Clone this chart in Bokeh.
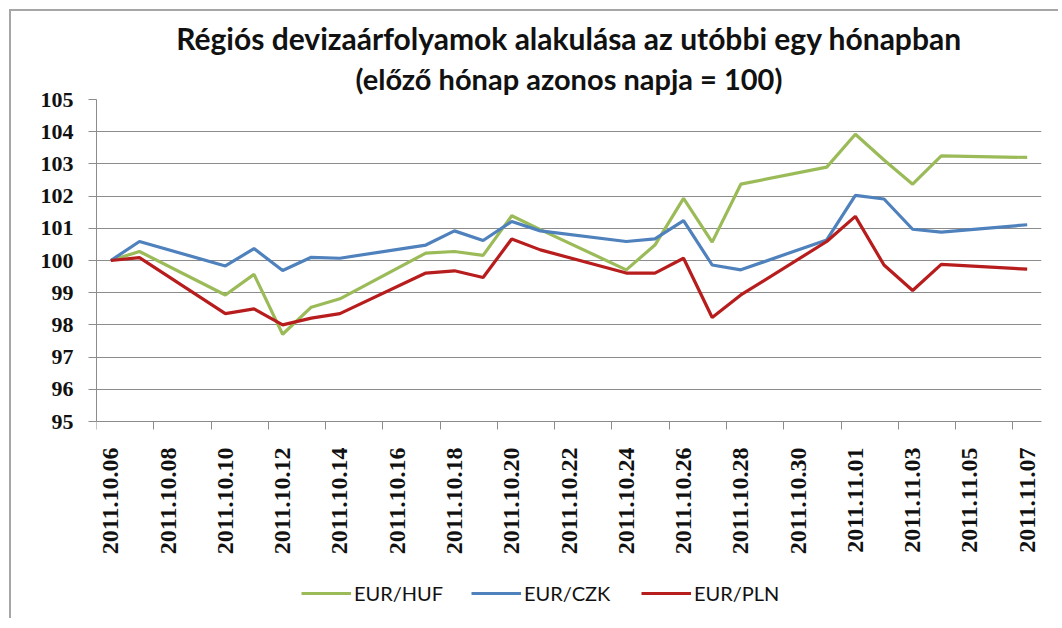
from datetime import date
from bokeh.plotting import figure
from bokeh.models import (FixedTicker, Legend, LegendItem, Title,
                          Range1d, ColumnDataSource)
from bokeh.embed import file_html
from bokeh.resources import INLINE

# ---- data ----
dates = ["2011.10.06", "2011.10.07", "2011.10.10", "2011.10.11", "2011.10.12",
         "2011.10.13", "2011.10.14", "2011.10.17", "2011.10.18", "2011.10.19",
         "2011.10.20", "2011.10.21", "2011.10.24", "2011.10.25", "2011.10.26",
         "2011.10.27", "2011.10.28", "2011.10.31", "2011.11.01", "2011.11.02",
         "2011.11.03", "2011.11.04", "2011.11.07"]
eur_huf = [100.00, 100.28, 98.93, 99.57, 97.71, 98.55, 98.81, 100.23, 100.28, 100.16,
           101.39, 100.96, 99.71, 100.48, 101.93, 100.57, 102.37, 102.90, 103.92, 103.12,
           102.37, 103.25, 103.20]
eur_czk = [100.00, 100.59, 99.83, 100.37, 99.69, 100.10, 100.07, 100.48, 100.92, 100.62,
           101.21, 100.92, 100.59, 100.67, 101.24, 99.86, 99.71, 100.64, 102.02, 101.91,
           100.97, 100.88, 101.11]
eur_pln = [100.00, 100.09, 98.35, 98.50, 98.00, 98.21, 98.35, 99.61, 99.68, 99.47,
           100.67, 100.33, 99.61, 99.61, 100.07, 98.23, 98.93, 100.59, 101.37, 99.86,
           99.07, 99.88, 99.73]
tick_labels = ["2011.10.06", "2011.10.08", "2011.10.10", "2011.10.12", "2011.10.14",
               "2011.10.16", "2011.10.18", "2011.10.20", "2011.10.22", "2011.10.24",
               "2011.10.26", "2011.10.28", "2011.10.30", "2011.11.01", "2011.11.03",
               "2011.11.05", "2011.11.07"]
y_ticks = [95, 96, 97, 98, 99, 100, 101, 102, 103, 104, 105]
series_names = ["EUR/HUF", "EUR/CZK", "EUR/PLN"]
colors = ["#9BBB59", "#4F81BD", "#B81D1D"]
title_1 = "Régiós devizaárfolyamok alakulása az utóbbi egy hónapban"
title_2 = "(előző hónap azonos napja = 100)"


def to_date(s):
    y, m, d = (int(v) for v in s.split("."))
    return date(y, m, d)


start = to_date(dates[0])
end = to_date(tick_labels[-1])
n_days = (end - start).days + 1          # one slot per calendar day
x_pos = [(to_date(d) - start).days + 0.5 for d in dates]   # centre of the day's slot
label_pos = [(to_date(d) - start).days + 0.5 for d in tick_labels]
bound_pos = [(to_date(d) - start).days for d in tick_labels]

src = ColumnDataSource(dict(x=x_pos, huf=eur_huf, czk=eur_czk, pln=eur_pln))

GRID = "#8C8C8C"
SERIF = "Liberation Serif"
SANS = "Lato"
EDGE = "#A6A6A6"

# geometry: the value axis (95..105) occupies the top 322 px of the frame; the frame
# continues below it so that the date labels and the legend sit inside it
FRAME_H = 519
AXIS_PX = 322
y_lo, y_hi = y_ticks[0], y_ticks[-1]
y_start = y_hi - (y_hi - y_lo) * FRAME_H / AXIS_PX

p = figure(frame_width=945, frame_height=FRAME_H, output_backend="svg", toolbar_location=None,
           x_range=Range1d(0, n_days), y_range=Range1d(y_start, y_hi),
           min_border_left=96, min_border_right=17, min_border_top=99,
           min_border_bottom=0, outline_line_color=None,
           background_fill_color="white", border_fill_color=None,
           styles={"background-color": "white",
                   "background-image": f"linear-gradient({EDGE},{EDGE}), linear-gradient({EDGE},{EDGE})",
                   "background-size": "2px 100%, 100% 2px",
                   "background-position": "9px 9px, 9px 9px",
                   "background-repeat": "no-repeat"})

# titles (the last added is nearest to the frame)
p.title = Title(text=title_1, align="center", text_font=SANS, text_font_size="30px",
                text_font_style="bold", text_color="#111111", standoff=0)
p.add_layout(Title(text=title_2, align="center", text_font=SANS, text_font_size="29px",
                   text_font_style="bold", text_color="#111111", standoff=7), "above")

# y axis
ya = p.yaxis[0]
ya.ticker = FixedTicker(ticks=y_ticks)
ya.bounds = (y_lo, y_hi)
ya.major_label_text_font = SERIF
ya.major_label_text_font_size = "22px"
ya.major_label_text_font_style = "bold"
ya.major_label_text_color = "#111111"
ya.major_label_standoff = 15
ya.major_tick_out = 8
ya.major_tick_in = 0
ya.minor_tick_line_color = None
ya.axis_line_color = GRID
ya.major_tick_line_color = GRID

p.ygrid.ticker = FixedTicker(ticks=y_ticks)
p.ygrid.grid_line_color = GRID
p.ygrid.grid_line_width = 1
p.xgrid.grid_line_color = None

# x axis at value 95: labels centred on day slots, tick marks on slot boundaries
xa = p.xaxis[0]
xa.fixed_location = y_lo
xa.ticker = FixedTicker(ticks=label_pos, minor_ticks=bound_pos)
xa.major_label_overrides = {pos: lab for pos, lab in zip(label_pos, tick_labels)}
xa.major_label_orientation = 3.14159265 / 2
xa.major_label_text_font = SERIF
xa.major_label_text_font_size = "24px"
xa.major_label_text_font_style = "bold"
xa.major_label_text_color = "#111111"
xa.major_label_standoff = 18
xa.major_tick_line_color = None
xa.major_tick_out = 0
xa.major_tick_in = 0
xa.minor_tick_out = 8
xa.minor_tick_in = 0
xa.minor_tick_line_color = GRID
xa.axis_line_color = GRID

items = []
for col, name, c in zip(["huf", "czk", "pln"], series_names, colors):
    r = p.line("x", col, source=src, line_color=c, line_width=3.2)
    items.append(LegendItem(label=name, renderers=[r]))

legend = Legend(items=items, orientation="horizontal", location=(205, 13),
                glyph_width=50, glyph_height=22, label_standoff=3,
                label_width=117, spacing=0,
                padding=0, margin=0, label_text_font=SANS, label_text_font_size="20px",
                label_text_color="#111111", background_fill_alpha=0,
                border_line_color=None)
p.add_layout(legend, "center")

open("out.html", "w").write(file_html(p, INLINE))
